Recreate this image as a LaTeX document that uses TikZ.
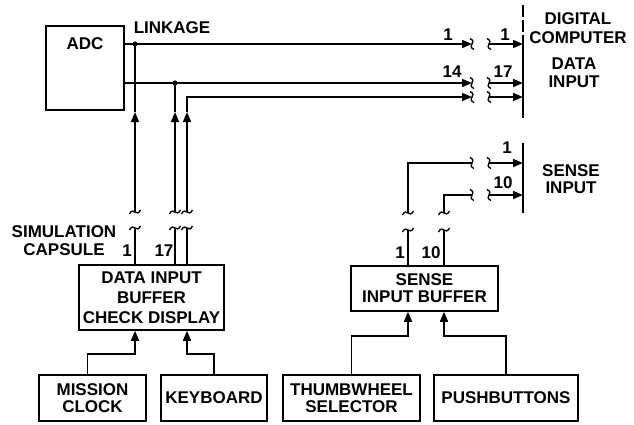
\documentclass[tikz,border=0pt]{standalone}
\usepackage{fontspec}
\setmainfont{Liberation Sans}
\usetikzlibrary{arrows.meta, calc}

\tikzset{
  box/.style={draw, line width=1.5pt, align=center, inner sep=2pt},
  wire/.style={line width=1.5pt},
  arr/.style={wire, -{Triangle[length=10pt,width=8pt]}},
  txt/.style={align=center, inner sep=0pt},
  brk/.pic={\draw[line width=1.3pt] (-5.5,2) .. controls (-1.5,-6) and (1.5,6) .. (5.5,-2);},
}

\begin{document}
\begin{tikzpicture}[x=1pt, y=-1pt, font=\fontsize{17}{18}\selectfont\bfseries]
\useasboundingbox (0,0) rectangle (634,424);

\node[box, minimum width=78pt, minimum height=84pt] (adc) at (85,68) {};
\node[txt] (adct) at (85,44) {ADC};
\node[box, minimum width=145pt, minimum height=65pt] (dib) at (151.5,297.5) {DATA INPUT\\[2pt]BUFFER\\[2pt]CHECK DISPLAY};
\node[box, minimum width=147pt, minimum height=45pt] (sib) at (424.5,288.5) {SENSE\\[-1pt]INPUT BUFFER};
\node[box, minimum width=107pt, minimum height=46pt] (clock) at (92.5,398) {MISSION\\[-1pt]CLOCK};
\node[box, minimum width=106pt, minimum height=46pt] (keyb) at (214,398) {KEYBOARD};
\node[box, minimum width=137pt, minimum height=46pt] (thumb) at (351.5,398) {THUMBWHEEL\\[-1pt]SELECTOR};
\node[box, minimum width=144pt, minimum height=46pt] (push) at (506,398) {PUSHBUTTONS};

\coordinate (ca) at (135,0);
\coordinate (cb) at (175,0);
\coordinate (cc) at (187,0);
\coordinate (sa) at (408,0);
\coordinate (sb) at (444,0);
\coordinate (bl) at (472,0);
\coordinate (br) at (489,0);
\coordinate (dbar) at (523,0);

\coordinate (l1) at (0,44);
\coordinate (l2) at (0,83);
\coordinate (l3) at (0,97);
\coordinate (m1) at (0,163);
\coordinate (m2) at (0,195);
\coordinate (tp) at (0,112);
\coordinate (ub) at (0,212);
\coordinate (lb) at (0,228);
\coordinate (us) at (0,213);
\coordinate (ls) at (0,230);
\coordinate (jy) at (0,354);
\coordinate (jz) at (0,336);

% linkage to the computer
\draw[arr] (adc.east |- l1) -- (bl |- l1);
\draw[arr] (adc.east |- l2) -- (bl |- l2);
\draw[arr] (ca |- ub) -- (ca |- tp);
\draw[wire] (ca |- tp) -- (ca |- l1);
\draw[arr] (cb |- ub) -- (cb |- tp);
\draw[wire] (cb |- tp) -- (cb |- l2);
\draw[arr] (cc |- ub) -- (cc |- tp);
\draw[arr] (cc |- tp) |- (bl |- l3);
\fill (ca |- l1) circle (2.6);
\fill (cb |- l2) circle (2.6);

\draw[arr] (br |- l1) -- (dbar |- l1);
\draw[arr] (br |- l2) -- (dbar |- l2);
\draw[arr] (br |- l3) -- (dbar |- l3);
\draw[arr] (br |- m1) -- (dbar |- m1);
\draw[arr] (br |- m2) -- (dbar |- m2);

\draw[wire] (sa |- us) |- (bl |- m1);
\draw[wire] (sb |- us) |- (bl |- m2);

\draw[wire] (dib.north -| ca) -- (ca |- lb);
\draw[wire] (dib.north -| cb) -- (cb |- lb);
\draw[wire] (dib.north -| cc) -- (cc |- lb);
\draw[wire] (sib.north -| sa) -- (sa |- ls);
\draw[wire] (sib.north -| sb) -- (sb |- ls);

% breaks
\foreach \c in {ca,cb,cc} {
  \pic at (\c |- ub) {brk};
  \pic at (\c |- lb) {brk};
}
\foreach \c in {sa,sb} {
  \pic at (\c |- us) {brk};
  \pic at (\c |- ls) {brk};
}
\foreach \l in {l1,l2,l3,m1,m2} {
  \pic[rotate=90] at (bl |- \l) {brk};
  \pic[rotate=90] at (br |- \l) {brk};
}

% computer inputs
\draw[wire] (523,5) -- (523,17) (523,20) -- (523,32) (523,35) -- (523,118);
\draw[wire] (523,143) -- (523,213);

% inputs to the buffers
\draw[arr] ([xshift=-5pt]clock.north) |- (ca |- jy) -- (dib.south -| ca);
\draw[arr] (keyb.north) |- (cc |- jy) -- (dib.south -| cc);
\draw[arr] (thumb.north) |- (sa |- jz) -- (sib.south -| sa);
\draw[arr] (push.north) |- (sb |- jz) -- (sib.south -| sb);

% labels
\node[txt] (lnk) at (172,27.5) {LINKAGE};
\node[txt] (na) at (448,35) {1};
\node[txt] (nb) at (452,72) {14};
\node[txt] (nc) at (505,35) {1};
\node[txt] (nd) at (503,72) {17};
\node[txt] (ne) at (507,148) {1};
\node[txt] (nf) at (503,183) {10};
\node[txt] (dc) at (578,28.5) {DIGITAL\\[1pt]COMPUTER};
\node[txt] (di) at (574,73) {DATA\\[0pt]INPUT};
\node[txt] (si) at (571,179.5) {SENSE\\[-1pt]INPUT};
\node[txt] (sc) at (64,241) {SIMULATION\\[0pt]CAPSULE};
\node[txt] (ng) at (127,251) {1};
\node[txt] (nh) at (164,251) {17};
\node[txt] (ni) at (400,253) {1};
\node[txt] (nj) at (431,253) {10};
\end{tikzpicture}
\end{document}
